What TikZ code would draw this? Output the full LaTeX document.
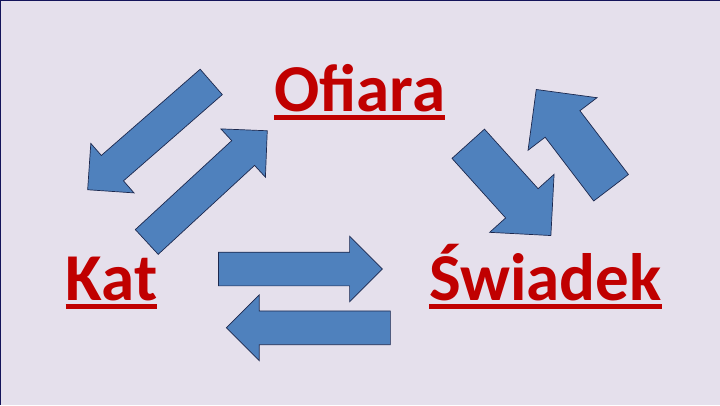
\documentclass[tikz,border=0pt]{standalone}
\usepackage{fontspec}
\setmainfont{Carlito}
\usetikzlibrary{shapes.arrows}
\definecolor{tlo}{RGB}{229,224,236}
\definecolor{czerwony}{RGB}{192,0,0}
\definecolor{niebieski}{RGB}{79,129,189}
\definecolor{obrys}{RGB}{28,40,78}
\definecolor{ramka}{RGB}{20,20,90}
\tikzset{
  rola/.style={anchor=base west, inner sep=0pt, text=czerwony,
    font=\fontsize{67}{72}\selectfont\bfseries},
  podkreslenie/.style={draw=czerwony, line width=4.8pt},
  strzalka/.style={single arrow, draw=obrys, fill=niebieski, line width=0.7pt,
    inner xsep=0pt, inner ysep=16.5pt, single arrow tip angle=90,
    single arrow head extend=16pt, minimum height=164pt, anchor=tail},
  gruba/.style={strzalka, inner ysep=21.5pt, single arrow head extend=21.5pt,
    minimum height=123.5pt}
}

\begin{document}
\begin{tikzpicture}[x=1pt,y=-1pt]
\useasboundingbox (0,0) rectangle (720,405);
\fill[tlo] (0,0) rectangle (720,405);
\draw[ramka, line width=2pt] (0,405) -- (0,0) -- (720,0);

\node[rola] (ofiara) at (274,111) {Ofiara};
\node[rola] (kat) at (65.5,300) {Kat};
\node[rola] (swiadek) at (429,300) {Świadek};

\draw[podkreslenie] ([yshift=-6.5pt]ofiara.base west) -- ([yshift=-6.5pt]ofiara.base east);
\draw[podkreslenie] ([yshift=-6.8pt]kat.base west) -- ([yshift=-6.8pt]kat.base east);
\draw[podkreslenie] ([yshift=-6.8pt]swiadek.base west) -- ([yshift=-6.8pt]swiadek.base east);

% strzalki zaczepione ogonem
\node[strzalka, rotate=221.1] (ofiara-kat) at (211.5,81.7) {};
\node[strzalka, rotate=42.7] (kat-ofiara) at (146.5,242.2) {};
\node[strzalka, rotate=0] (kat-swiadek) at (218.1,269) {};
\node[strzalka, rotate=180] (swiadek-kat) at (390.7,327.8) {};
\node[gruba, rotate=-48] (ofiara-swiadek) at (468,143.5) {};
\node[gruba, rotate=127.3] (swiadek-ofiara) at (611.3,188) {};
\end{tikzpicture}
\end{document}
